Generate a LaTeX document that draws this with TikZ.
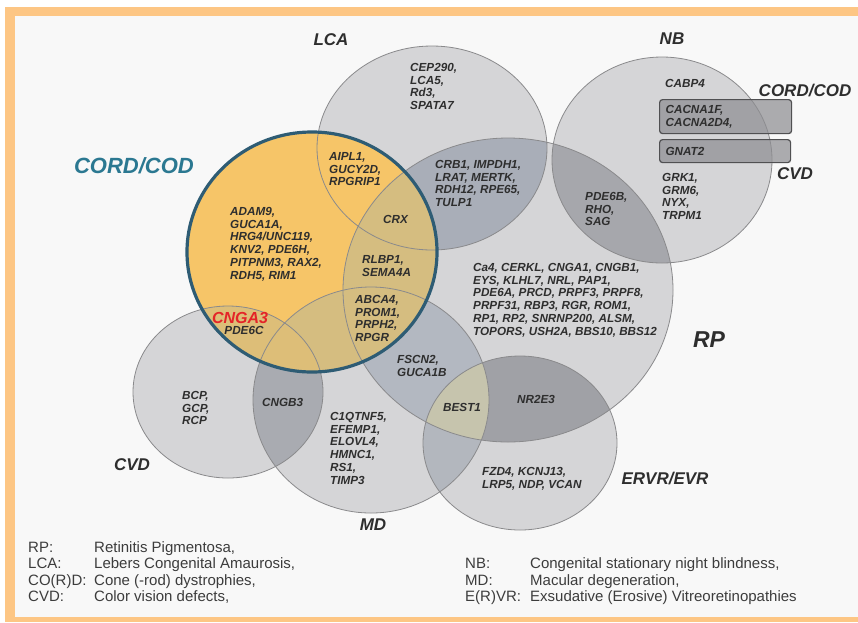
\documentclass[tikz,border=0pt]{standalone}
\usepackage{fontspec}
\setmainfont{Liberation Sans}
\usepackage{tikz}
\usetikzlibrary{positioning}
\definecolor{framebar}{HTML}{FDC684}
\definecolor{vennbg}{HTML}{F8F8F8}
\definecolor{venngrey}{HTML}{D5D5D7}
\definecolor{vennrim}{HTML}{8A8A8C}
\definecolor{cordfill}{HTML}{F6C568}
\definecolor{cordmix}{HTML}{D5BD80}
\definecolor{cvdmix}{HTML}{DDBE78}
\definecolor{cordrim}{HTML}{2E5C74}
\definecolor{cordtext}{HTML}{2B7891}
\definecolor{genetext}{HTML}{2E2E2E}
\definecolor{legtext}{HTML}{3C3C3C}
\definecolor{redgene}{HTML}{E42428}
\definecolor{boxfill}{HTML}{8E8E92}
\definecolor{boxrim}{HTML}{505052}
\definecolor{ovlr}{HTML}{A9AEB8}
\definecolor{ovnr}{HTML}{A6A7AC}
\definecolor{ovmr}{HTML}{B3B8C1}
\definecolor{ovre}{HTML}{A0A1A6}
\definecolor{ovcm}{HTML}{A9ABB1}
\definecolor{ovme}{HTML}{B3B7BE}
\definecolor{ovbest}{HTML}{C6C4AD}
\newcommand\genefont{\fontsize{11.7}{12.8}\selectfont\bfseries\itshape}
\newcommand\labfont{\fontsize{17}{20}\selectfont\bfseries\itshape}
\newcommand\legfont{\fontsize{15}{16.5}\selectfont}
\tikzset{
  % disease sets
  pLCA/.style={insert path={(432,148) ellipse [x radius=115pt,y radius=102pt]}},
  pNB/.style={insert path={(662,160) ellipse [x radius=110pt,y radius=103pt]}},
  pRP/.style={insert path={(508,290) ellipse [x radius=165pt,y radius=152pt]}},
  pCOD/.style={insert path={(312,252) ellipse [x radius=125pt,y radius=120pt]}},
  pCVD/.style={insert path={(228,392) ellipse [x radius=95pt,y radius=86pt]}},
  pMD/.style={insert path={(371,400) ellipse [x radius=118pt,y radius=113pt]}},
  pEVR/.style={insert path={(520,443) ellipse [x radius=97pt,y radius=87pt]}},
  rim/.style={draw=vennrim,line width=0.8pt},
  % labels
  gene/.style={font=\genefont,text=genetext,align=left,inner sep=0pt,anchor=north west},
  dis/.style={font=\labfont,text=genetext,inner sep=0pt},
  leg/.style={font=\legfont,text=legtext,inner sep=0pt,anchor=base west},
  genebox/.style={draw=boxrim,fill=boxfill,fill opacity=0.72,text opacity=1,
    line width=1.2pt,rounded corners=3pt,font=\genefont,text=genetext,align=left,
    inner xsep=6pt,inner ysep=0pt,anchor=north west},
}

\begin{document}
\begin{tikzpicture}[x=1pt,y=-1pt]
  \useasboundingbox (0,0) rectangle (858,622);
  \fill[white] (0,0) rectangle (858,622);
  \fill[framebar] (5,7) rectangle (858,622);
  \fill[vennbg] (15,16) rectangle (858,617);

  % grey sets and their overlaps
  \foreach \s in {pLCA,pNB,pRP,pCVD,pMD,pEVR} \fill[venngrey,\s];
  \begin{scope}
    \clip[pRP];
    \fill[ovlr,pLCA]; \fill[ovnr,pNB]; \fill[ovmr,pMD]; \fill[ovre,pEVR];
  \end{scope}
  \begin{scope}
    \clip[pMD];
    \fill[ovcm,pCVD]; \fill[ovme,pEVR];
    \clip[pRP];
    \fill[ovbest,pEVR];
  \end{scope}

  % cone(-rod) dystrophies
  \fill[cordfill,pCOD];
  \begin{scope}
    \clip[pCOD];
    \fill[cordmix,pRP]; \fill[cordmix,pMD]; \fill[cvdmix,pCVD];
  \end{scope}
  \foreach \s in {pLCA,pNB,pRP,pCVD,pMD,pEVR} \path[rim,\s];
  \draw[cordrim,line width=3.2pt,pCOD];

  % set names
  \node[dis] (nLCA) at (331,40) {LCA};
  \node[dis] (nNB) at (672,39) {NB};
  \node[dis] (nCODr) at (805,91) {CORD/COD};
  \node[dis] (nCVDr) at (795,174) {CVD};
  \node[dis,font=\fontsize{23}{26}\selectfont\bfseries\itshape] (nRP) at (709,340) {RP};
  \node[dis] (nEVR) at (665,478) {ERVR/EVR};
  \node[dis] (nMD) at (373,525) {MD};
  \node[dis] (nCVD) at (132,465) {CVD};
  \node[dis,font=\fontsize{22}{25}\selectfont\bfseries\itshape,text=cordtext] (nCOD) at (134,166) {CORD/COD};

  % genes
  \node[gene] (gLCA) at (410,63) {CEP290,\\LCA5,\\Rd3,\\SPATA7};
  \node[gene] (gAIPL) at (329,152) {AIPL1,\\GUCY2D,\\RPGRIP1};
  \node[gene] (gCRB) at (435,160) {CRB1, IMPDH1,\\LRAT, MERTK,\\RDH12, RPE65,\\TULP1};
  \node[gene] (gCRX) at (383,215) {CRX};
  \node[gene] (gRLBP) at (362,255) {RLBP1,\\SEMA4A};
  \node[gene] (gCOD) at (230,207) {ADAM9,\\GUCA1A,\\HRG4/UNC119,\\KNV2, PDE6H,\\PITPNM3, RAX2,\\RDH5, RIM1};
  \node[gene] (gABCA) at (355,295) {ABCA4,\\PROM1,\\PRPH2,\\RPGR};
  \node[dis,font=\fontsize{16}{18}\selectfont\bfseries\itshape,text=redgene] (gCNGA) at (240,318) {CNGA3};
  \node[gene,below=2.5pt of gCNGA,xshift=4pt] (gPDEC) {PDE6C};
  \node[gene] (gPDEB) at (585,192) {PDE6B,\\RHO,\\SAG};
  \node[gene] (gCABP) at (665,79) {CABP4};
  \node[genebox,text width=120pt,minimum height=34pt] (bCACN) at (659,99) {CACNA1F,\\CACNA2D4,};
  \node[genebox,text width=119pt,minimum height=23pt] (bGNAT) at (659,139) {GNAT2};
  \node[gene] (gNB) at (662,173) {GRK1,\\GRM6,\\NYX,\\TRPM1};
  \node[gene] (gRP) at (473,263) {Ca4, CERKL, CNGA1, CNGB1,\\EYS, KLHL7, NRL, PAP1,\\PDE6A, PRCD, PRPF3, PRPF8,\\PRPF31, RBP3, RGR, ROM1,\\RP1, RP2, SNRNP200, ALSM,\\TOPORS, USH2A, BBS10, BBS12};
  \node[gene] (gFSCN) at (397,355) {FSCN2,\\GUCA1B};
  \node[gene] (gBEST) at (443,403) {BEST1};
  \node[gene] (gNR) at (517,395) {NR2E3};
  \node[gene] (gMD) at (330,412) {C1QTNF5,\\EFEMP1,\\ELOVL4,\\HMNC1,\\RS1,\\TIMP3};
  \node[gene] (gEVR) at (482,467) {FZD4, KCNJ13,\\LRP5, NDP, VCAN};
  \node[gene] (gCVD) at (182,391) {BCP,\\GCP,\\RCP};
  \node[gene] (gCNGB) at (262,398) {CNGB3};

  % abbreviations
  \foreach \ab/\txt [count=\i] in {RP:/{Retinitis Pigmentosa,}, LCA:/{Lebers Congenital Amaurosis,},
      CO(R)D:/{Cone (-rod) dystrophies,}, CVD:/{Color vision defects,}} {
    \node[leg] (abA\i) at (28,535.5+16.5*\i) {\ab};
    \node[leg] (txA\i) at (94,535.5+16.5*\i) {\txt};
  }
  \foreach \ab/\txt [count=\i] in {NB:/{Congenital stationary night blindness,},
      MD:/{Macular degeneration,}, E(R)VR:/{Exsudative (Erosive) Vitreoretinopathies}} {
    \node[leg] (abB\i) at (465,552+16.5*\i) {\ab};
    \node[leg] (txB\i) at (530,552+16.5*\i) {\txt};
  }
\end{tikzpicture}
\end{document}
